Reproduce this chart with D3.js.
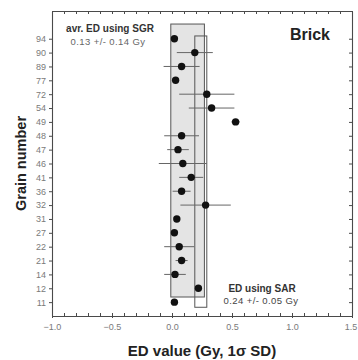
<!DOCTYPE html>
<html>
<head>
<meta charset="utf-8">
<script src="https://cdn.jsdelivr.net/npm/d3@7"></script>
<style>
  body { margin: 0; background: #fff; }
  text { font-family: "Liberation Sans", Arial, Helvetica, sans-serif; }
</style>
</head>
<body>
<div id="chart"></div>
<script>
// grains listed top to bottom as on the chart
var grains = [94, 90, 89, 77, 72, 54, 49, 48, 47, 46, 41, 36, 32, 31, 27, 22, 21, 14, 12, 11];
var edValues = [0.02, 0.19, 0.08, 0.03, 0.29, 0.33, 0.53, 0.08, 0.05, 0.09, 0.16, 0.08, 0.28, 0.04, 0.02, 0.06, 0.08, 0.025, 0.22, 0.02];
var edErrors = [0.02, 0.15, 0.15, 0.02, 0.23, 0.19, 0.035, 0.145, 0.09, 0.2, 0.1, 0.075, 0.21, 0.02, 0.02, 0.125, 0.05, 0.09, 0.02, 0.02];
var xTicks = [-1.0, -0.5, 0.0, 0.5, 1.0, 1.5];
var sgrMean = 0.13, sgrSd = 0.14;
var sarMean = 0.24, sarSd = 0.05;

var width = 358, height = 360;
var plotLeft = 52, plotRight = 352, plotTop = 11, plotBottom = 316;
var frameColor = '#4a4a4a';

var svg = d3.select('#chart')
    .append('svg')
    .attr('width', width)
    .attr('height', height);

var x = d3.scaleLinear().domain([-1, 1.5]).range([plotLeft, plotRight]);
var y = d3.scaleLinear().domain([-1, 21]).range([plotBottom, plotTop]);
var n = grains.length;
var rowIndex = function(i){ return n - 1 - i; };
var minorTicks = d3.range(-10, 16).map(function(d){ return d / 10; });

// average boxes
svg.append('rect')
    .attr('x', x(sgrMean - sgrSd))
    .attr('y', y(20.06))
    .attr('width', x(sgrMean + sgrSd) - x(sgrMean - sgrSd))
    .attr('height', y(0.37) - y(20.06))
    .attr('fill', '#e4e4e4')
    .attr('stroke', '#555')
    .attr('stroke-width', 1);

svg.append('rect')
    .attr('x', x(sarMean - sarSd))
    .attr('y', y(19.2))
    .attr('width', x(sarMean + sarSd) - x(sarMean - sarSd))
    .attr('height', y(-0.37) - y(19.2))
    .attr('fill', 'none')
    .attr('stroke', '#555')
    .attr('stroke-width', 1);

function styleAxis(g){
    g.select('.domain').attr('stroke', frameColor).attr('stroke-width', 1.1);
    g.selectAll('.tick line').attr('stroke', frameColor);
    g.selectAll('.tick text')
        .attr('fill', '#7a7a7a')
        .style('font-size', '9px');
}

// axes
svg.append('g')
    .attr('transform', 'translate(' + plotLeft + ',0)')
    .call(d3.axisLeft(y)
        .tickValues(d3.range(n))
        .tickFormat(function(d){ return grains[n - 1 - d]; })
        .tickSize(3)
        .tickSizeOuter(0))
    .call(styleAxis);

svg.append('g')
    .attr('transform', 'translate(' + plotRight + ',0)')
    .call(d3.axisRight(y)
        .tickValues(d3.range(n))
        .tickFormat('')
        .tickSize(-3)
        .tickSizeOuter(0))
    .call(styleAxis);

svg.append('g')
    .attr('transform', 'translate(0,' + plotBottom + ')')
    .call(d3.axisBottom(x)
        .tickValues(minorTicks)
        .tickFormat('')
        .tickSize(-3)
        .tickSizeOuter(0))
    .call(styleAxis);

var xAxis = svg.append('g')
    .attr('transform', 'translate(0,' + plotBottom + ')')
    .call(d3.axisBottom(x)
        .tickValues(xTicks)
        .tickFormat(d3.format('.1f'))
        .tickSize(2)
        .tickPadding(6)
        .tickSizeOuter(0))
    .call(styleAxis);
// keep the last label inside the window
xAxis.selectAll('.tick text')
    .filter(function(d){ return d === 1.5; })
    .attr('dx', -1.5);

svg.append('g')
    .attr('transform', 'translate(0,' + plotTop + ')')
    .call(d3.axisTop(x)
        .tickValues(minorTicks)
        .tickFormat('')
        .tickSize(-3)
        .tickSizeOuter(0))
    .call(styleAxis);

// error bars
svg.append('g').selectAll('line')
    .data(grains)
    .enter()
    .append('line')
    .attr('x1', function(d, i){ return x(edValues[i] - edErrors[i]); })
    .attr('x2', function(d, i){ return x(edValues[i] + edErrors[i]); })
    .attr('y1', function(d, i){ return y(rowIndex(i)); })
    .attr('y2', function(d, i){ return y(rowIndex(i)); })
    .attr('stroke', '#666')
    .attr('stroke-width', 1);

// points
svg.append('g').selectAll('circle')
    .data(grains)
    .enter()
    .append('circle')
    .attr('cx', function(d, i){ return x(edValues[i]); })
    .attr('cy', function(d, i){ return y(rowIndex(i)); })
    .attr('r', 3.7)
    .attr('fill', '#111');

// annotations
svg.append('text')
    .attr('x', 110).attr('y', 32)
    .attr('text-anchor', 'middle')
    .style('font-size', '10px').style('font-weight', 'bold')
    .attr('fill', '#333')
    .text('avr. ED using SGR');

svg.append('text')
    .attr('x', 108).attr('y', 44.5)
    .attr('text-anchor', 'middle')
    .style('font-size', '9.5px')
    .style('letter-spacing', '0.4px')
    .attr('fill', '#666')
    .text(sgrMean.toFixed(2) + ' +/- ' + sgrSd.toFixed(2) + ' Gy');

svg.append('text')
    .attr('x', 310).attr('y', 40)
    .attr('text-anchor', 'middle')
    .style('font-size', '16px').style('font-weight', 'bold')
    .attr('fill', '#222')
    .text('Brick');

svg.append('text')
    .attr('x', 262).attr('y', 292)
    .attr('text-anchor', 'middle')
    .style('font-size', '10px').style('font-weight', 'bold')
    .attr('fill', '#333')
    .text('ED using SAR');

svg.append('text')
    .attr('x', 261).attr('y', 303.5)
    .attr('text-anchor', 'middle')
    .style('font-size', '9.5px')
    .style('letter-spacing', '0.4px')
    .attr('fill', '#444')
    .text(sarMean.toFixed(2) + ' +/- ' + sarSd.toFixed(2) + ' Gy');

// axis titles
svg.append('text')
    .attr('x', 202).attr('y', 356)
    .attr('text-anchor', 'middle')
    .style('font-size', '15px').style('font-weight', 'bold')
    .attr('fill', '#222')
    .text('ED value (Gy, 1\u03c3 SD)');

svg.append('text')
    .attr('transform', 'translate(26,' + ((plotTop + plotBottom) / 2) + ') rotate(-90)')
    .attr('text-anchor', 'middle')
    .style('font-size', '14.5px').style('font-weight', 'bold')
    .attr('fill', '#222')
    .text('Grain number');
</script>
</body>
</html>
